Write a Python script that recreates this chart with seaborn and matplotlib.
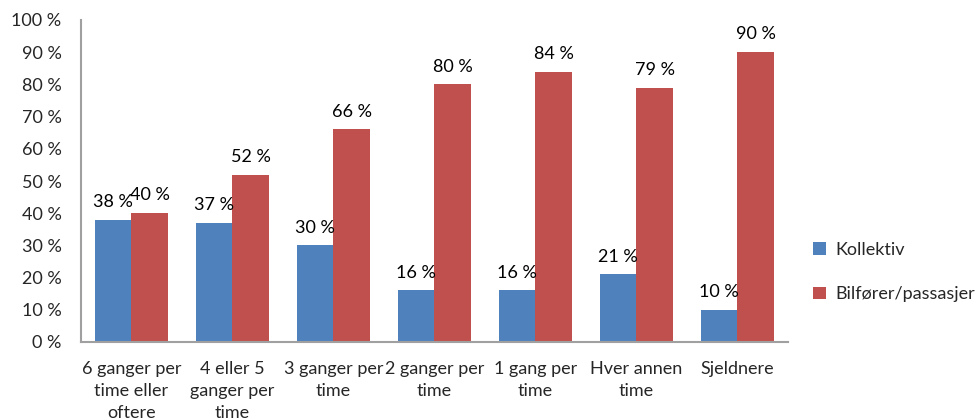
import matplotlib
matplotlib.use("Agg")
import matplotlib.pyplot as plt
import seaborn as sns
import pandas as pd

categories = [
    "6 ganger per\ntime eller\noftere",
    "4 eller 5\nganger per\ntime",
    "3 ganger per\ntime",
    "2 ganger per\ntime",
    "1 gang per\ntime",
    "Hver annen\ntime",
    "Sjeldnere",
]
series_names = ["Kollektiv", "Bilfører/passasjer"]
kollektiv = [38, 37, 30, 16, 16, 21, 10]
bilforer = [40, 52, 66, 80, 84, 79, 90]
y_ticks = [0, 10, 20, 30, 40, 50, 60, 70, 80, 90, 100]

df = pd.DataFrame({
    "kategori": categories * 2,
    "serie": [series_names[0]] * len(categories) + [series_names[1]] * len(categories),
    "andel": kollektiv + bilforer,
})

sns.set_theme(style="white")
plt.rcParams["font.family"] = ["Lato", "DejaVu Sans"]
FS = 13

fig = plt.figure(figsize=(9.78, 4.2), dpi=100)
ax = fig.add_axes([81 / 978, 78 / 420, (788 - 81) / 978, (342 - 20) / 420])

palette = {series_names[0]: "#4F81BD", series_names[1]: "#C0504D"}
sns.barplot(data=df, x="kategori", y="andel", hue="serie", palette=palette,
            width=0.73, gap=0, saturation=1, edgecolor="none", ax=ax,
            order=categories, hue_order=series_names)

for cont in ax.containers:
    ax.bar_label(cont, labels=[f"{v:.0f} %" for v in cont.datavalues],
                 padding=7, fontsize=FS, color="#000000")

ax.set_ylim(0, 100)
ax.set_xlim(-0.5, len(categories) - 0.5)
ax.set_yticks(y_ticks)
ax.set_yticklabels([f"{t} %" for t in y_ticks], fontsize=FS)
ax.tick_params(axis="y", length=0, pad=14)
ax.tick_params(axis="x", length=0, pad=14, labelsize=FS)
for lbl in ax.get_xticklabels():
    lbl.set_linespacing(1.45)
ax.set_xlabel("")
ax.set_ylabel("")

for side in ["top", "right"]:
    ax.spines[side].set_visible(False)
for side in ["left", "bottom"]:
    ax.spines[side].set_color("#A0A0A0")
    ax.spines[side].set_linewidth(1.5)

handles, labels = ax.get_legend_handles_labels()
ax.legend(handles, labels, loc="center left", bbox_to_anchor=(797 / 978, 1 - 272 / 420),
          bbox_transform=fig.transFigure, frameon=False, fontsize=FS,
          handlelength=0.7, handleheight=0.7, handletextpad=0.5, labelspacing=1.6)

fig.savefig("out.png", dpi=100)
